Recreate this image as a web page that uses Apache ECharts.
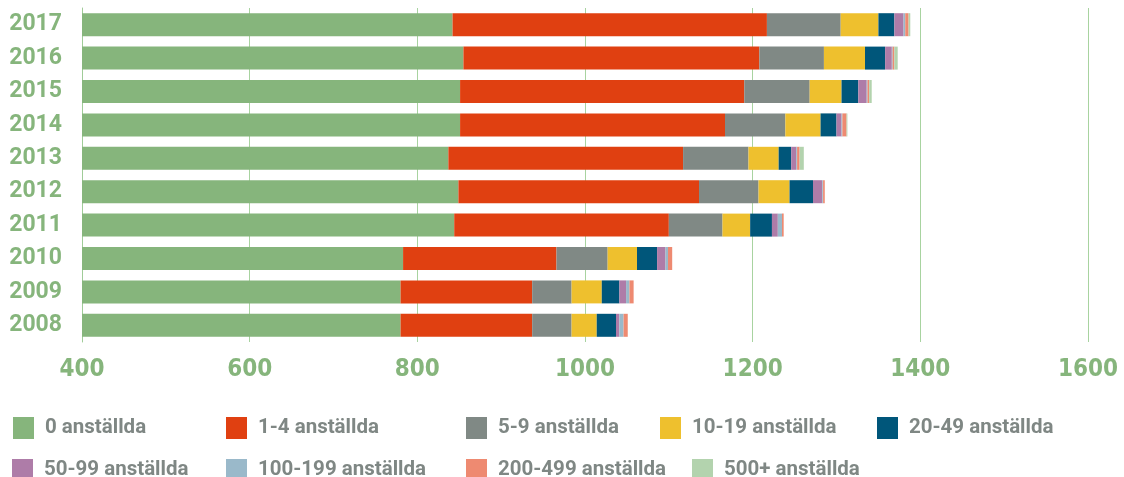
<!DOCTYPE html>
<html>
<head>
<meta charset="utf-8">
<script src="https://cdn.jsdelivr.net/npm/echarts@6/dist/echarts.min.js"></script>
<style>
html,body{margin:0;padding:0;background:#fff;}
#chart{width:1124px;height:477px;}
</style>
</head>
<body>
<div id="chart"></div>
<script>
// Data (years top to bottom)
var years = ['2017','2016','2015','2014','2013','2012','2011','2010','2009','2008'];
var xTicks = [400, 600, 800, 1000, 1200, 1400, 1600];
var seriesNames = ['0 anställda','1-4 anställda','5-9 anställda','10-19 anställda','20-49 anställda','50-99 anställda','100-199 anställda','200-499 anställda','500+ anställda'];
var emp0      = [842, 855, 851, 851, 837, 849, 844, 783, 780, 780];
var emp1_4    = [375, 353, 339, 316, 280, 287, 256, 183, 157, 157];
var emp5_9    = [88, 77, 78, 72, 78, 71, 64, 61, 47, 47];
var emp10_19  = [45, 49, 38, 42, 36, 37, 33, 35, 36, 30];
var emp20_49  = [19, 24, 20, 19, 15, 28, 26, 24, 21, 23];
var emp50_99  = [11, 8, 10, 6, 6, 11, 7, 10, 8, 4];
var emp100_199= [2, 1, 1, 1, 1, 1, 5, 3, 4, 5];
var emp200_499= [4, 2, 2, 5, 3, 2, 2, 5, 5, 5];
var emp500    = [2, 4, 3, 1, 5, 0, 0, 0, 0, 0];

var values = [emp0, emp1_4, emp5_9, emp10_19, emp20_49, emp50_99, emp100_199, emp200_499, emp500];
var colors = ['#86b57c','#e04011','#808985','#eec02e','#00567a','#ae7ca8','#9ab9ca','#ee8a71','#b3d3ae'];

var legendPos = [
  [13,417],[226,417],[466,417],[660,417],[877,417],
  [12,459],[226,459],[466,459],[692,459]
];

var chart = echarts.init(document.getElementById('chart'), null, {renderer:'canvas'});
var green = '#86b57c';
var option = {
  animation: false,
  color: colors,
  grid: {left: 82, right: 36, top: 8, bottom: 135},
  xAxis: {
    type: 'value',
    min: xTicks[0], max: xTicks[xTicks.length-1], interval: 200,
    axisLine: {show: false},
    axisTick: {show: false},
    splitLine: {show: true, lineStyle: {color: '#a8d3a0', width: 1}},
    axisLabel: {
      color: green, fontFamily: '"DejaVu Sans Condensed", sans-serif',
      fontSize: 24, fontWeight: 'bold', margin: 16,
      formatter: function(v){ return String(v); }
    }
  },
  yAxis: {
    type: 'category',
    data: years,
    inverse: true,
    axisTick: {show: false},
    axisLine: {show: true, lineStyle: {color: '#a0cc98', width: 1}},
    axisLabel: {color: green, fontFamily: 'Roboto, sans-serif', fontSize: 23, fontWeight: 'bold', margin: 20}
  },
  legend: legendPos.map(function(p, i){
    return {
      data: [seriesNames[i]],
      left: p[0], top: p[1], padding: 0,
      icon: 'rect', itemWidth: 21, itemHeight: 22,
      selectedMode: false,
      textStyle: {color: '#7f8784', fontFamily: 'Roboto, sans-serif', fontSize: 20.5, fontWeight: 'bold', padding: [0,0,0,6]}
    };
  }),
  series: seriesNames.map(function(n, i){
    return {
      name: n, type: 'bar', stack: 'total',
      data: values[i], barWidth: 23,
      itemStyle: {color: colors[i]}
    };
  })
};
chart.setOption(option);
</script>
</body>
</html>
